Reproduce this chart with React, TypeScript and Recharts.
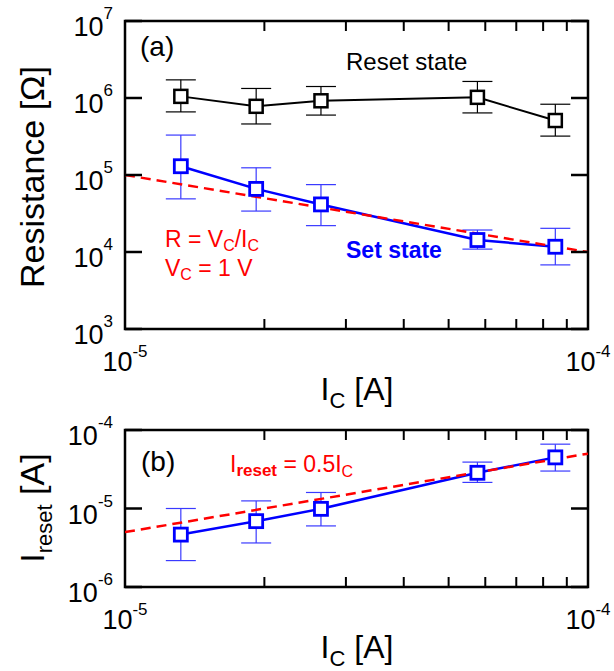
import React from "react";
import { LineChart, Line, XAxis, YAxis, ErrorBar, ReferenceArea } from "recharts";

// compliance current I_C [A]
const icValues = [1.32e-5, 1.92e-5, 2.65e-5, 5.77e-5, 8.5e-5];

// (a) resistance, reset state
const resetR = [1.05e6, 7.8e5, 9.2e5, 1.02e6, 5.1e5];
const resetLow = [6.6e5, 4.6e5, 6.0e5, 6.4e5, 3.2e5];
const resetHigh = [1.72e6, 1.33e6, 1.41e6, 1.64e6, 8.3e5];

// (a) resistance, set state
const setR = [1.3e5, 6.6e4, 4.15e4, 1.43e4, 1.17e4];
const setLow = [4.9e4, 3.4e4, 2.2e4, 1.09e4, 6.8e3];
const setHigh = [3.3e5, 1.24e5, 7.5e4, 1.93e4, 2.03e4];

// (b) reset current
const iReset = [4.65e-6, 6.9e-6, 9.9e-6, 2.85e-5, 4.48e-5];
const iResetLow = [2.17e-6, 3.64e-6, 6.0e-6, 2.15e-5, 3.0e-5];
const iResetHigh = [1.0e-5, 1.25e-5, 1.6e-5, 3.9e-5, 6.6e-5];

// dashed guide lines (end points)
const guideX = [1e-5, 1e-4];
const guideR = [1e5, 1e4];
const guideI = [5e-6, 5e-5];

const xTicks = [1e-5, 2e-5, 3e-5, 4e-5, 5e-5, 6e-5, 7e-5, 8e-5, 9e-5, 1e-4];
const rTicks = [1e3, 1e4, 1e5, 1e6, 1e7];
const iTicks = [1e-6, 1e-5, 1e-4];

const FONT = "'Liberation Sans', Arial, sans-serif";
const BLUE = "#0000ff";
const RED = "#ff0000";

const dataA = icValues.map((x, i) => ({
  x,
  reset: resetR[i],
  resetErr: [resetR[i] - resetLow[i], resetHigh[i] - resetR[i]],
  set: setR[i],
  setErr: [setR[i] - setLow[i], setHigh[i] - setR[i]],
}));
const dataB = icValues.map((x, i) => ({
  x,
  ir: iReset[i],
  irErr: [iReset[i] - iResetLow[i], iResetHigh[i] - iReset[i]],
}));
const guideA = guideX.map((x, i) => ({ x, fit: guideR[i] }));
const guideB = guideX.map((x, i) => ({ x, fit: guideI[i] }));

const LEFT = 125;
const RIGHT = 588;

const square = (color: string, sw: number) => (p: any) => (
  <rect
    key={`sq-${p.index}`}
    x={p.cx - 6.5}
    y={p.cy - 6.5}
    width={13}
    height={13}
    fill="#fff"
    stroke={color}
    strokeWidth={sw}
  />
);

const makeYTick = () => (p: any) => {
  const exp = Math.round(Math.log10(p.payload.value));
  return (
    <g>
      <line x1={LEFT} x2={LEFT + 17} y1={p.y} y2={p.y} stroke="#000" strokeWidth={2.5} />
      <line x1={RIGHT} x2={RIGHT - 17} y1={p.y} y2={p.y} stroke="#000" strokeWidth={2.5} />
      <text x={113} y={p.y + 15} textAnchor="end" fontSize={27} fontFamily={FONT} fill="#000">
        10
        <tspan dy={-17} fontSize={17}>
          {exp}
        </tspan>
      </text>
    </g>
  );
};

const makeXTick = (top: number, bottom: number) => (p: any) => {
  const lg = Math.log10(p.payload.value);
  const decade = Math.abs(lg - Math.round(lg)) < 1e-6;
  if (decade) {
    return (
      <text x={p.x} y={bottom + 42} textAnchor="middle" fontSize={27} fontFamily={FONT} fill="#000">
        10
        <tspan dy={-14} fontSize={17}>
          {Math.round(lg)}
        </tspan>
      </text>
    );
  }
  return (
    <g>
      <line x1={p.x} x2={p.x} y1={bottom} y2={bottom - 10} stroke="#000" strokeWidth={2} />
      <line x1={p.x} x2={p.x} y1={top} y2={top + 10} stroke="#000" strokeWidth={2} />
    </g>
  );
};

function PanelA() {
  return (
    <LineChart width={614} height={400} data={dataA} margin={{ top: 21, right: 26, bottom: 0, left: 0 }}>
      <XAxis
        dataKey="x"
        type="number"
        scale="log"
        domain={[1e-5, 1e-4]}
        ticks={xTicks}
        interval={0}
        allowDataOverflow
        axisLine={false}
        tickLine={false}
        height={71}
        tick={makeXTick(21, 329)}
      />
      <YAxis
        type="number"
        scale="log"
        domain={[1e3, 1e7]}
        ticks={rTicks}
        interval={0}
        allowDataOverflow
        axisLine={false}
        tickLine={false}
        width={125}
        tick={makeYTick()}
      />
      <ReferenceArea x1={1e-5} x2={1e-4} y1={1e3} y2={1e7} fill="none" stroke="#000" strokeWidth={2.5} ifOverflow="visible" />
      <Line dataKey="reset" stroke="#000" strokeWidth={2} isAnimationActive={false} dot={square("#000", 2.5)} activeDot={false}>
        <ErrorBar dataKey="resetErr" direction="y" width={15} stroke="#000" strokeWidth={1.2} />
      </Line>
      <Line dataKey="set" stroke={BLUE} strokeWidth={2.5} isAnimationActive={false} dot={square(BLUE, 2.8)} activeDot={false}>
        <ErrorBar dataKey="setErr" direction="y" width={15} stroke="#3a3aff" strokeWidth={1.2} />
      </Line>
      <Line data={guideA} dataKey="fit" stroke={RED} strokeWidth={2.5} strokeDasharray="10 6" isAnimationActive={false} dot={false} activeDot={false} />
    </LineChart>
  );
}

function PanelB() {
  return (
    <LineChart width={614} height={271} data={dataB} margin={{ top: 30, right: 26, bottom: 0, left: 0 }}>
      <XAxis
        dataKey="x"
        type="number"
        scale="log"
        domain={[1e-5, 1e-4]}
        ticks={xTicks}
        interval={0}
        allowDataOverflow
        axisLine={false}
        tickLine={false}
        height={84}
        tick={makeXTick(30, 187)}
      />
      <YAxis
        type="number"
        scale="log"
        domain={[1e-6, 1e-4]}
        ticks={iTicks}
        interval={0}
        allowDataOverflow
        axisLine={false}
        tickLine={false}
        width={125}
        tick={makeYTick()}
      />
      <ReferenceArea x1={1e-5} x2={1e-4} y1={1e-6} y2={1e-4} fill="none" stroke="#000" strokeWidth={2.5} ifOverflow="visible" />
      <Line dataKey="ir" stroke={BLUE} strokeWidth={2.5} isAnimationActive={false} dot={square(BLUE, 2.8)} activeDot={false}>
        <ErrorBar dataKey="irErr" direction="y" width={15} stroke="#3a3aff" strokeWidth={1.2} />
      </Line>
      <Line data={guideB} dataKey="fit" stroke={RED} strokeWidth={2.5} strokeDasharray="10 6" isAnimationActive={false} dot={false} activeDot={false} />
    </LineChart>
  );
}

export default function App() {
  return (
    <div style={{ position: "absolute", left: 0, top: 0, width: 614, height: 671, background: "#fff", fontFamily: FONT }}>
      <div style={{ position: "absolute", left: 0, top: 0 }}>
        <PanelA />
      </div>
      <div style={{ position: "absolute", left: 0, top: 400 }}>
        <PanelB />
      </div>
      <svg width={614} height={671} style={{ position: "absolute", left: 0, top: 0, pointerEvents: "none" }} fontFamily={FONT}>
        {/* panel (a) */}
        <text x={140} y={56} fontSize={28} fill="#000">(a)</text>
        <text x={346} y={70} fontSize={24} fill="#000">Reset state</text>
        <text x={346} y={258} fontSize={23} fontWeight="bold" fill={BLUE}>Set state</text>
        <text x={165} y={247} fontSize={23} fill={RED}>
          R = V<tspan dy={4} fontSize={16}>C</tspan>
          <tspan dy={-4}>/I</tspan>
          <tspan dy={4} fontSize={16}>C</tspan>
        </text>
        <text x={165} y={276} fontSize={23} fill={RED}>
          V<tspan dy={4} fontSize={16}>C</tspan>
          <tspan dy={-4}> = 1 V</tspan>
        </text>
        <text transform="translate(44,177) rotate(-90)" textAnchor="middle" fontSize={34} fill="#000">
          Resistance [Ω]
        </text>
        <text x={357} y={400} textAnchor="middle" fontSize={32} fill="#000">
          I<tspan dy={8} fontSize={22}>C</tspan>
          <tspan dy={-8}> [A]</tspan>
        </text>
        {/* panel (b) */}
        <text x={141} y={471} fontSize={28} fill="#000">(b)</text>
        <text x={230} y={472} fontSize={23} fill={RED}>
          I<tspan dy={4} fontSize={17} fontWeight="bold">reset</tspan>
          <tspan dy={-4}> = 0.5I</tspan>
          <tspan dy={5} fontSize={16}>C</tspan>
        </text>
        <text transform="translate(44,508) rotate(-90)" textAnchor="middle" fontSize={34} fill="#000">
          I<tspan dy={8} fontSize={22}>reset</tspan>
          <tspan dy={-8}> [A]</tspan>
        </text>
        <text x={357} y={658} textAnchor="middle" fontSize={32} fill="#000">
          I<tspan dy={8} fontSize={22}>C</tspan>
          <tspan dy={-8}> [A]</tspan>
        </text>
      </svg>
    </div>
  );
}
